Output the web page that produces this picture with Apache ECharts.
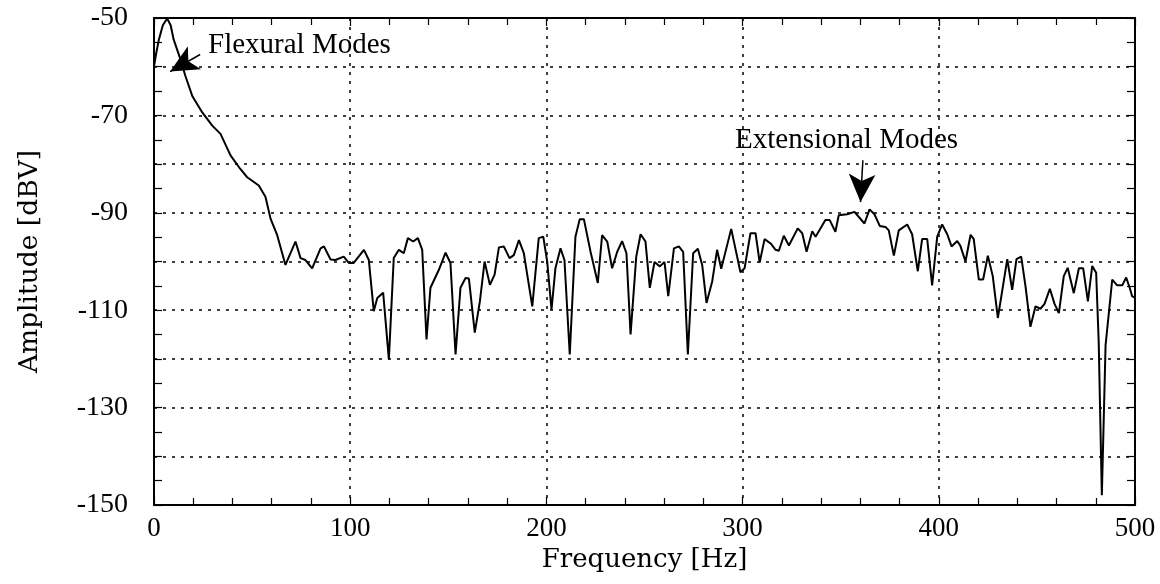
<!DOCTYPE html>
<html>
<head>
<meta charset="utf-8">
<title>Amplitude spectrum</title>
<script src="https://cdn.jsdelivr.net/npm/echarts@6/dist/echarts.min.js"></script>
<style>
  html, body { margin: 0; padding: 0; background: #fff; }
  #chart { width: 1160px; height: 584px; }
</style>
</head>
<body>
<div id="chart"></div>
<script>
// Frequency bins [Hz]
const freq = [
  0, 1, 2.5, 4.5, 6.7, 8.5, 10, 13.5, 16, 19.5, 24.6, 29.7, 33.9, 39, 44, 47.5,
  53.4, 56.8, 59.4, 62.8, 67, 72.1, 74.7, 77.2, 80.6, 84.9, 86.6, 90, 92.5, 96.7,
  99.3, 101.8, 107, 109.5, 112, 113.8, 116.8, 119.7, 122.2, 124.8, 127.3, 129.4,
  132.1, 134.5, 136.7, 138.9, 140.9, 145.2, 148.6, 151.1, 153.7, 156.2, 158.8,
  160.5, 163.5, 166.1, 168.5, 171.2, 173.6, 175.8, 178.3, 181.2, 183.4, 186, 188.5,
  192.8, 196.1, 198.4, 200.4, 202.6, 204.6, 207.2, 209.2, 211.9, 214.8, 217, 219.1,
  222.5, 226.2, 228.4, 231, 233.5, 236.1, 238.6, 240.8, 242.9, 245.8, 248, 250.5,
  252.7, 255.1, 257.8, 260.2, 262.1, 265, 267.5, 269.7, 272.1, 274.8, 277.2, 279.4,
  281.6, 284.5, 287, 289.1, 294.2, 298.9, 301, 304, 306.6, 308.7, 311.2, 314.3,
  316.8, 318.5, 321, 323.6, 328.1, 330.4, 332.6, 335.5, 337.2, 342.2, 344.4, 347.3,
  349, 353.3, 357, 362.1, 364.7, 367.2, 369.9, 372.8, 374.5, 377.1, 379.6, 383.9,
  386.4, 389.3, 391.5, 394.1, 396.6, 399.2, 401.7, 404.3, 406.5, 409.4, 411,
  413.6, 416.2, 417.8, 420.4, 422.6, 425, 427.5, 430.1, 434.9, 437.4, 439.6, 442,
  444.2, 446.7, 449.3, 451.8, 453.9, 456.6, 459, 461.2, 463.7, 465.7, 468.8, 471.4,
  473.6, 476, 478.2, 480.2, 481.5, 483.1, 485, 488.4, 490.9, 493.5, 495.5, 497.3,
  498.5, 500
];

// Measured amplitude [dBV]
const amp = [
  -60, -57.5, -54.4, -51.5, -50.1, -51.5, -54.4, -58.5, -61.9, -66, -69.4, -72.1,
  -73.8, -78.2, -81, -82.7, -84.4, -86.7, -91.2, -94.6, -100.7, -95.9, -99.3,
  -99.7, -101.4, -97.3, -96.9, -99.6, -99.7, -99, -100.3, -100.3, -97.6, -99.7,
  -110.2, -107.5, -106.4, -120.1, -99.3, -97.6, -98.3, -95.2, -95.9, -95.2, -97.6,
  -116, -105.4, -101.7, -98.2, -100.3, -119.1, -105.4, -103.4, -103.5, -114.6,
  -108.2, -100, -104.8, -102.7, -97.1, -96.9, -99.3, -98.7, -95.6, -98.3, -109.2,
  -95.2, -94.9, -100, -109.9, -101.4, -97.3, -99.7, -119.1, -94.9, -91.3, -91.3,
  -98, -104.4, -94.6, -95.9, -101.4, -98, -95.8, -98.3, -115, -99, -94.4, -95.9,
  -105.4, -100.1, -101, -100.1, -107.1, -97.3, -96.9, -98, -119.1, -98.3, -97.4,
  -100.7, -108.5, -104.1, -97.6, -101.5, -93.3, -102.2, -101.4, -94.2, -94.2,
  -100.2, -95.4, -96.3, -97.6, -97.8, -94.7, -96.7, -93.2, -94.2, -98, -93.8,
  -94.9, -91.5, -91.5, -93.9, -90.5, -90.3, -89.8, -92.2, -89.3, -90.3, -92.7,
  -92.9, -93.6, -98.8, -93.6, -92.4, -94.4, -102, -95.4, -95.4, -104.9, -94.9,
  -92.4, -94.4, -96.9, -95.8, -96.8, -100, -94.5, -95.4, -103.7, -103.7, -98.8,
  -103, -111.6, -99.5, -105.8, -99.5, -99, -105.1, -113.4, -109.2, -109.7, -108.7,
  -105.6, -108.7, -110.6, -103, -101.3, -106.5, -101.4, -101.4, -108.2, -100.9,
  -102.3, -116.5, -148, -117.2, -103.7, -104.9, -104.9, -103.3, -105.4, -107.1,
  -107.5
];

// Amplitude values that carry a tick label
const ampLabels = [-150, -130, -110, -90, -70, -50];

// Annotation arrows, [tail, tip] in (Hz, dBV)
const flexuralArrow = [[23.5, -57.5], [8.2, -61.0]];
const extensionalArrow = [[361.3, -79.2], [360.1, -87.8]];

const serif = '"Liberation Serif", "Times New Roman", serif';
const wideSerif = '"DejaVu Serif", serif';
const ink = '#000';
const dotted = { color: ink, width: 1.5, type: [3, 6] };

const chart = echarts.init(document.getElementById('chart'), null, { renderer: 'canvas' });

const frameAxisX = {
  type: 'value', min: 0, max: 500, interval: 100,
  axisLine: { show: true, onZero: false, lineStyle: { color: ink, width: 2 } },
  axisTick: { show: true, inside: true, length: 8, lineStyle: { color: ink, width: 1.2 } },
  minorTick: { show: true, splitNumber: 5, length: 7, lineStyle: { color: ink, width: 1.2 } },
  splitLine: { show: false }
};
const frameAxisY = {
  type: 'value', min: -150, max: -50, interval: 10,
  axisLine: { show: true, onZero: false, lineStyle: { color: ink, width: 2 } },
  axisTick: { show: true, inside: true, length: 8, lineStyle: { color: ink, width: 1.2 } },
  minorTick: { show: true, splitNumber: 2, length: 8, lineStyle: { color: ink, width: 1.2 } },
  splitLine: { show: false }
};

chart.setOption({
  animation: false,
  backgroundColor: '#fff',
  grid: { left: 154, right: 25, top: 18, bottom: 79, containLabel: false },
  xAxis: [
    Object.assign({}, frameAxisX, {
      position: 'bottom',
      name: 'Frequency [Hz]',
      nameLocation: 'middle',
      nameGap: 40,
      nameTextStyle: { fontFamily: wideSerif, fontSize: 26, color: ink },
      axisLabel: { show: true, margin: 10, fontFamily: serif, fontSize: 27, color: ink },
      splitLine: { show: true, lineStyle: dotted }
    }),
    Object.assign({}, frameAxisX, { position: 'top', axisLabel: { show: false } })
  ],
  yAxis: [
    Object.assign({}, frameAxisY, {
      position: 'left',
      name: 'Amplitude [dBV]',
      nameLocation: 'middle',
      nameGap: 110,
      nameTextStyle: { fontFamily: wideSerif, fontSize: 26.5, color: ink },
      axisLabel: {
        show: true, margin: 26, fontFamily: serif, fontSize: 28, color: ink,
        padding: [8, 0, 0, 0],
        formatter: v => (ampLabels.includes(v) ? String(v) : '')
      },
      splitLine: { show: true, lineStyle: dotted }
    }),
    Object.assign({}, frameAxisY, { position: 'right', axisLabel: { show: false } })
  ],
  series: [{
    type: 'line',
    xAxisIndex: 0,
    yAxisIndex: 0,
    data: freq.map((f, i) => [f, amp[i]]),
    showSymbol: false,
    smooth: false,
    lineStyle: { color: ink, width: 2 },
    markLine: {
      silent: true,
      symbol: ['none', 'arrow'],
      symbolSize: [20, 28],
      label: { show: false },
      lineStyle: { color: ink, width: 1.5, type: 'solid' },
      data: [
        [{ coord: flexuralArrow[0] }, { coord: flexuralArrow[1] }],
        [{ coord: extensionalArrow[0] }, { coord: extensionalArrow[1] }]
      ]
    }
  }],
  graphic: [
    {
      type: 'text', left: 208, top: 31,
      style: { text: 'Flexural Modes', font: '29px ' + serif, fill: ink }
    },
    {
      type: 'text', left: 735, top: 126,
      style: { text: 'Extensional Modes', font: '29px ' + serif, fill: ink }
    }
  ]
});
</script>
</body>
</html>
